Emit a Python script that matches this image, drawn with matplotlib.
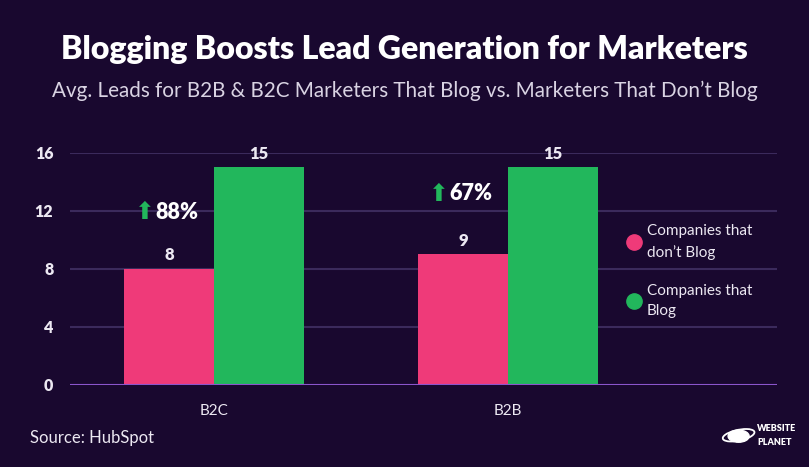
import numpy as np
import matplotlib.pyplot as plt
from matplotlib.lines import Line2D
from matplotlib.patches import Circle, Ellipse

plt.rcParams['font.family'] = ['Lato', 'DejaVu Sans']

categories = ['B2C', 'B2B']
no_blog = [8, 9]
blog = [15, 15]
growth = ['88%', '67%']
growth_y = [11.9, 13.2]
yticks = [0, 4, 8, 12, 16]

bg = '#19082f'
pink = '#ef3a79'
green = '#22b75c'
txt = '#ece8f2'

fig = plt.figure(figsize=(8.09, 4.67), dpi=100, facecolor=bg)
ax = fig.add_axes([0.0865, 0.1756, 0.874, 0.4968], facecolor=bg)

x = np.arange(len(categories))
w = 0.306
b1 = ax.bar(x - w / 2, no_blog, width=w, color=pink, zorder=3)
b2 = ax.bar(x + w / 2, blog, width=w, color=green, zorder=3)

for rect, v in list(zip(b1, no_blog)) + list(zip(b2, blog)):
    ax.text(rect.get_x() + rect.get_width() / 2, v + 0.4, str(v), ha='center', va='bottom',
            color=txt, fontsize=12, fontweight='heavy')

# growth annotations
for i, (g, gy) in enumerate(zip(growth, growth_y)):
    ax.text(i - 0.235, gy, '\u2b06', ha='center', va='center', color=green, fontsize=17,
            family='DejaVu Sans', zorder=4)
    ax.text(i - 0.2, gy, g, ha='left', va='center', color='white', fontsize=15.5,
            fontweight='heavy', zorder=4)

ax.set_xlim(-0.49, 1.915)
ax.set_ylim(0, 16)
ax.set_yticks(yticks)
ax.set_xticks(x)
ax.set_xticklabels(categories)
for s in ax.spines.values():
    s.set_visible(False)
ax.tick_params(axis='both', length=0, colors=txt)
ax.tick_params(axis='y', pad=12, labelsize=11.5)
ax.tick_params(axis='x', pad=14, labelsize=11)
for lab in ax.get_yticklabels():
    lab.set_fontweight('heavy')
for t in yticks[1:]:
    ax.axhline(t, color='#3b2a5c', lw=1.5, zorder=1)
ax.axhline(0, color='#8b55cc', lw=1.5, zorder=4)

handles = [Line2D([], [], marker='o', ls='', color=pink, markersize=11),
           Line2D([], [], marker='o', ls='', color=green, markersize=11)]
leg = ax.legend(handles, ['Companies that\ndon\u2019t Blog', 'Companies that\nBlog'],
                loc='center left', bbox_to_anchor=(0.765, 0.49), frameon=False,
                fontsize=11, labelspacing=1.6, handletextpad=0.25, handlelength=1.2)
for t in leg.get_texts():
    t.set_color(txt)
    t.set_linespacing(1.55)

fig.text(0.5, 0.893, 'Blogging Boosts Lead Generation for Marketers', ha='center', va='center',
         color='white', fontsize=23, fontweight='heavy')
fig.text(0.5, 0.805, 'Avg. Leads for B2B & B2C Marketers That Blog vs. Marketers That Don\u2019t Blog',
         ha='center', va='center', color='#d9d3e3', fontsize=14.85)
fig.text(0.037, 0.062, 'Source: HubSpot', ha='left', va='center', color=txt, fontsize=12)

# small logo
fig.patches.append(Circle((0.913, 0.066), 0.013, transform=fig.transFigure, color='white'))
fig.patches.append(Ellipse((0.913, 0.068), 0.042, 0.022, angle=25, transform=fig.transFigure,
                           fill=False, ec='white', lw=1.3))
fig.text(0.936, 0.082, 'WEBSITE', color='white', fontsize=6.5, fontweight='heavy', va='center')
fig.text(0.936, 0.052, 'PLANET', color='white', fontsize=6.5, fontweight='heavy', va='center')

fig.savefig('out.png', dpi=100, facecolor=bg)
